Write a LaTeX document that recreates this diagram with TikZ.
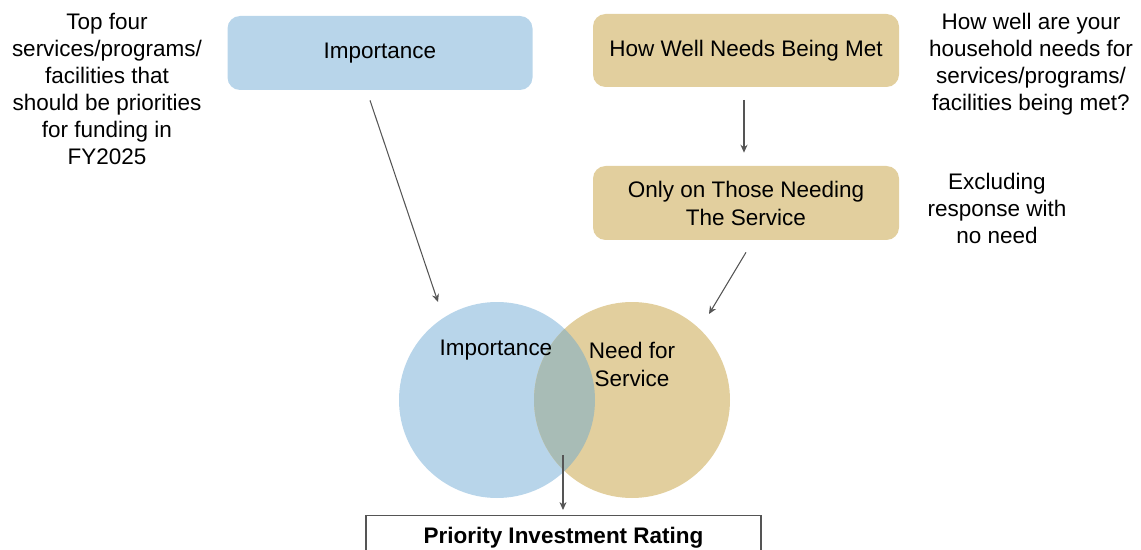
\documentclass[tikz,border=0pt]{standalone}
\usepackage{fontspec}
\setmainfont{Liberation Sans}
\usetikzlibrary{arrows.meta}

\definecolor{impblue}{HTML}{B8D5EA}
\definecolor{needtan}{HTML}{E2CF9E}
\definecolor{mixed}{HTML}{A8BCB6}
\definecolor{arrgray}{HTML}{555555}

\begin{document}
\begin{tikzpicture}[
  stepbox/.style={rectangle, rounded corners=0.25cm, align=center, inner xsep=2pt,
    font=\fontsize{12.8}{15.9}\selectfont},
  note/.style={align=center, font=\fontsize{12.8}{15.3}\selectfont},
  arr/.style={draw=arrgray, line width=0.6pt, -{Stealth[length=4.5pt,width=4pt]}}
  ]
  \clip (0,0) rectangle (22.82,-11);

  \node[stepbox, fill=impblue, minimum width=6.1cm, minimum height=1.48cm] (imp) at (7.6,-1.06) {Importance};
  \node[stepbox, fill=needtan, minimum width=6.12cm, minimum height=1.46cm] (well) at (14.92,-1.01) {How Well Needs Being Met};
  \node[stepbox, fill=needtan, minimum width=6.12cm, minimum height=1.48cm] (only) at (14.92,-4.06) {Only on Those Needing\\The Service};

  \node[note] (topfour) at (2.14,-1.78) {Top four\\services/programs/\\facilities that\\should be priorities\\for funding in\\FY2025};
  \node[note] (howwell) at (20.62,-1.28) {How well are your\\household needs for\\services/programs/\\facilities being met?};
  \node[note] (excl) at (19.94,-4.17) {Excluding\\response with\\no need};

  % venn
  \node[circle, fill=impblue, minimum size=3.92cm] (impc) at (9.94,-8) {};
  \node[circle, fill=needtan, minimum size=3.92cm] (needc) at (12.64,-8) {};
  \begin{scope}
    \clip (impc.center) circle (1.96cm);
    \fill[mixed] (needc.center) circle (1.96cm);
  \end{scope}
  \node[stepbox] (impt) at (9.92,-7.0) {Importance};
  \node[stepbox] (needt) at (12.64,-7.28) {Need for\\Service};

  \node[draw=arrgray, line width=0.7pt, anchor=north, minimum width=7.9cm, inner ysep=0.1cm,
    text height=0.46cm, text depth=1cm, font=\fontsize{12.8}{15}\selectfont\bfseries]
    (rating) at (11.27,-10.3) {Priority Investment Rating};

  \coordinate (impend) at (8.76,-6.04);
  \coordinate (onlyend) at (14.18,-6.28);
  \coordinate (mid) at (11.26,-9.1);

  \draw[arr] ([xshift=-0.2cm,yshift=-0.2cm]imp.south) -- (impend);
  \draw[arr, shorten <=0.25cm, shorten >=0.26cm] ([xshift=-0.04cm]well.south) -- ([xshift=-0.04cm]only.north);
  \draw[arr] ([yshift=-0.24cm]only.south) -- (onlyend);
  \draw[arr, shorten >=0.1cm] (mid) -- (mid |- rating.north);
\end{tikzpicture}
\end{document}
